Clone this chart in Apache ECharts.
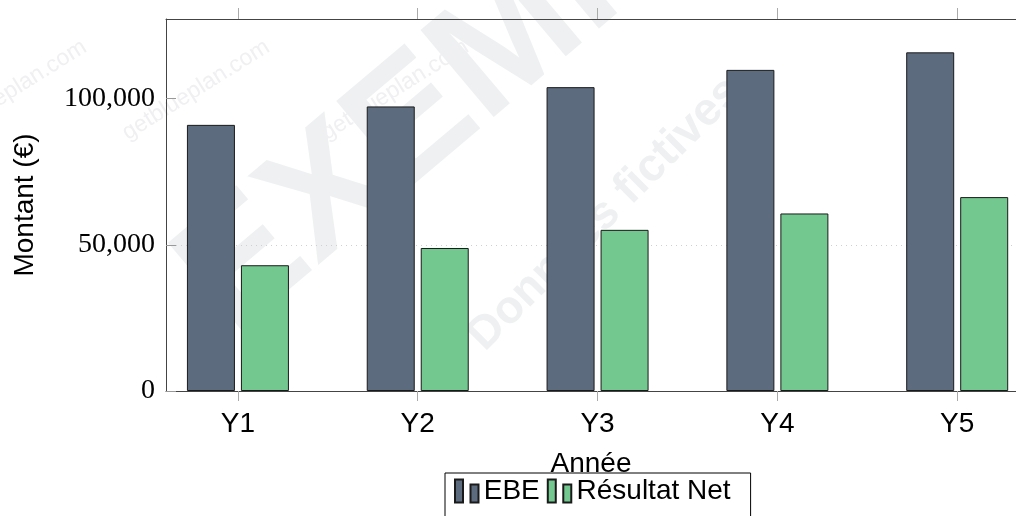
<!DOCTYPE html>
<html>
<head>
<meta charset="utf-8">
<script src="https://cdn.jsdelivr.net/npm/echarts@6/dist/echarts.min.js"></script>
<style>
  html, body { margin: 0; padding: 0; background: #fff; }
  #chart { width: 1016px; height: 516px; }
</style>
</head>
<body>
<div id="chart"></div>
<script>
const categories = ['Y1', 'Y2', 'Y3', 'Y4', 'Y5'];
const ebeValues = [91000, 97300, 103900, 109800, 115800];
const netValues = [43000, 48900, 55100, 60700, 66300];
const yTickValues = [0, 50000, 100000];
const seriesNames = ['EBE', 'Résultat Net'];

const catPositions = categories.map((c, i) => i);
const sans = 'Liberation Sans';
const serif = 'Liberation Serif';
const iconPath = 'path://M0,0h8v23h-8z M15.5,5h8v18h-8z';

const chart = echarts.init(document.getElementById('chart'), null, { renderer: 'canvas' });

const wmColor = '#eef0f2';
const smallWm = [[13, 90], [196, 90], [395, 90]];

const option = {
  animation: false,
  backgroundColor: '#ffffff',
  grid: { left: 166, top: 19, right: 0, height: 372, containLabel: false },
  graphic: [
    {
      type: 'text', x: 505, y: 48, rotation: 0.70, z: -10,
      style: { text: 'EXEMPLE', fill: wmColor, font: 'bold 165px "Liberation Sans"', align: 'center', verticalAlign: 'middle' }
    },
    {
      type: 'text', x: 605, y: 214, rotation: Math.PI / 4, z: -10,
      style: { text: 'Données fictives', fill: wmColor, font: 'bold 46px "Liberation Sans"', align: 'center', verticalAlign: 'middle' }
    }
  ].concat(smallWm.map(p => ({
    type: 'text', x: p[0], y: p[1], rotation: 0.56, z: -10,
    style: { text: 'getblueplan.com', fill: '#f0f0f2', font: '23px "Liberation Sans"', align: 'center', verticalAlign: 'middle' }
  }))),
  legend: {
    data: seriesNames.map(n => ({ name: n, icon: iconPath })),
    left: 445,
    top: 473,
    orient: 'horizontal',
    itemWidth: 24,
    itemHeight: 23,
    itemGap: 7,
    padding: [4, 20, 30, 9],
    borderColor: '#000',
    borderWidth: 1,
    textStyle: { fontFamily: sans, fontSize: 28, color: '#000' }
  },
  xAxis: [
    {
      type: 'value',
      position: 'bottom',
      min: -0.4,
      max: 4.327,
      axisLine: { show: true, onZero: false, lineStyle: { color: '#444', width: 1 } },
      axisTick: { show: true, inside: false, length: 10, customValues: catPositions, lineStyle: { color: '#aaa' } },
      axisLabel: {
        show: true, customValues: catPositions, margin: 19,
        formatter: v => categories[Math.round(v)],
        fontFamily: sans, fontSize: 28, color: '#000'
      },
      splitLine: { show: false },
      name: 'Année',
      nameLocation: 'middle',
      nameGap: 59,
      nameTextStyle: { fontFamily: sans, fontSize: 28, color: '#000' }
    },
    {
      type: 'value',
      position: 'top',
      min: -0.4,
      max: 4.327,
      axisLine: { show: true, onZero: false, lineStyle: { color: '#444', width: 1 } },
      axisTick: { show: true, inside: false, length: 11, customValues: catPositions, lineStyle: { color: '#aaa' } },
      axisLabel: { show: false },
      splitLine: { show: false }
    }
  ],
  yAxis: {
    type: 'value',
    min: 0,
    max: 127200,
    interval: 50000,
    axisLine: { show: true, onZero: false, lineStyle: { color: '#444', width: 1 } },
    axisTick: { show: true, inside: true, length: 10, customValues: yTickValues, lineStyle: { color: '#999' } },
    axisLabel: {
      customValues: yTickValues,
      margin: 11,
      formatter: v => v.toLocaleString('en-US'),
      fontFamily: serif, fontSize: 28, color: '#000'
    },
    splitLine: { show: true, showMinLine: false, showMaxLine: false, lineStyle: { color: '#d0d0d0', type: [1, 4], width: 1 } },
    name: 'Montant (€)',
    nameLocation: 'middle',
    nameGap: 127,
    nameRotate: 90,
    nameTextStyle: { fontFamily: sans, fontSize: 28, color: '#000' }
  },
  series: [
    {
      name: seriesNames[0],
      type: 'bar',
      xAxisIndex: 0,
      barWidth: 48,
      barGap: '12.5%',
      data: ebeValues.map((v, i) => [catPositions[i], v]),
      itemStyle: { color: '#5d6b7f', borderColor: '#1a1a1a', borderWidth: 1 }
    },
    {
      name: seriesNames[1],
      type: 'bar',
      xAxisIndex: 0,
      barWidth: 48,
      barGap: '12.5%',
      data: netValues.map((v, i) => [catPositions[i], v]),
      itemStyle: { color: '#73c890', borderColor: '#1a1a1a', borderWidth: 1 }
    }
  ]
};

chart.setOption(option);
</script>
</body>
</html>
